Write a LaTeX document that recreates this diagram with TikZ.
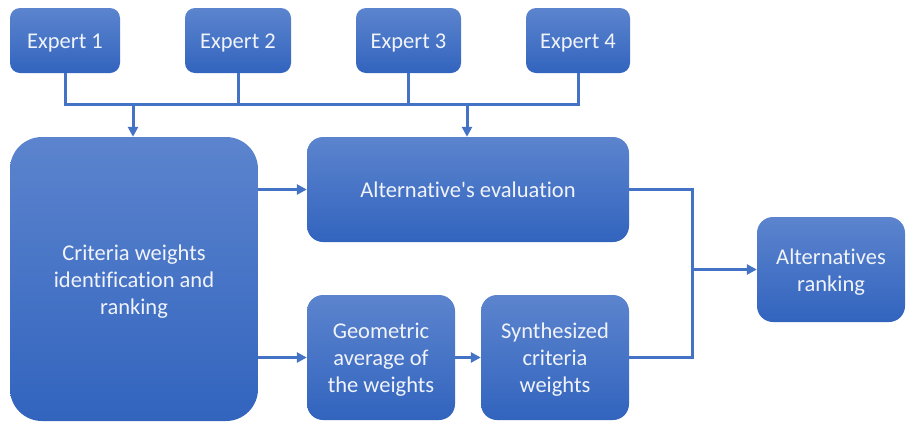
\documentclass[tikz,border=0pt]{standalone}
\usepackage{fontspec}
\setmainfont{Carlito}[Ligatures=NoCommon]
\usetikzlibrary{arrows.meta}
\definecolor{boxtop}{RGB}{92,132,206}
\definecolor{boxbot}{RGB}{50,100,190}
\definecolor{linec}{RGB}{68,114,196}
\definecolor{txt}{RGB}{240,243,250}
\newcommand\ls{\rule[-5.3pt]{0pt}{26.8pt}}
\begin{document}
\begin{tikzpicture}[x=1pt,y=-1pt,
  box/.style={rectangle, rounded corners=#1, top color=boxtop, bottom color=boxbot, draw=none,
    text=txt, align=center, inner sep=0pt,
    font=\fontsize{22.5}{27}\selectfont},
  box/.default=10pt,
  conn/.style={draw=linec, line width=3pt},
  arr/.style={conn, -{Triangle[length=10pt,width=10pt]}}]
\useasboundingbox (0,0) rectangle (907,424);
% experts
\node[box, minimum width=110pt, minimum height=65pt] (e1) at (65,40.5) {\ls Expert 1};
\node[box, minimum width=106pt, minimum height=65pt] (e2) at (238,40.5) {\ls Expert 2};
\node[box, minimum width=105pt, minimum height=65pt] (e3) at (408.5,40.5) {\ls Expert 3};
\node[box, minimum width=104pt, minimum height=65pt] (e4) at (578,40.5) {\ls Expert 4};
% main boxes
\node[box=32pt, minimum width=248pt, minimum height=284pt] (crit) at (134,279)
  {\ls Criteria weights\\\ls identification and\\\ls ranking};
\node[box=16pt, minimum width=322pt, minimum height=105pt] (alt) at (468,189.5)
  {\ls Alternative\textquotesingle s evaluation};
\node[box=16pt, minimum width=148pt, minimum height=125pt] (geo) at (381,357.5)
  {\ls Geometric\\\ls average of\\\ls the weights};
\node[box=16pt, minimum width=148pt, minimum height=125pt] (syn) at (555,357.5)
  {\ls Synthesized\\\ls criteria\\\ls weights};
\node[box=16pt, minimum width=148pt, minimum height=105pt] (rank) at (831,269.5)
  {\ls Alternatives\\\ls ranking};
% bus
\coordinate (bl) at (65,104);
\coordinate (br) at (578,104);
\coordinate (ba) at (133,104);
\coordinate (bb) at (467,104);
\draw[conn] (e1.south) -- (bl) -- (br) -- (e4.south);
\draw[conn] (e2.south) -- (e2.south |- bl);
\draw[conn] (e3.south) -- (e3.south |- bl);
\draw[arr] (ba) -- (ba |- crit.north);
\draw[arr] (bb) -- (bb |- alt.north);
% left arrows
\draw[arr] (crit.east |- alt.west) -- (alt.west);
\draw[arr] (crit.east |- geo.west) -- (geo.west);
\draw[arr] (geo.east) -- (syn.west);
% right junction
\coordinate (j) at (692,269.5);
\draw[conn] (alt.east) -| (j);
\draw[conn] (syn.east) -| (j);
\draw[arr] (j) -- (rank.west);
\end{tikzpicture}
\end{document}
